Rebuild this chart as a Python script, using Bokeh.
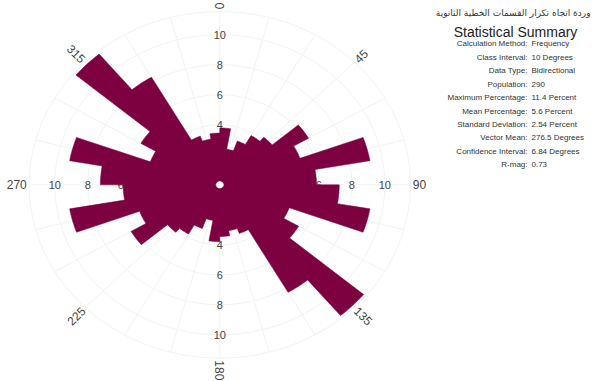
import math

from bokeh.core.properties import value
from bokeh.embed import file_html
from bokeh.models import ColumnDataSource, Label, Range1d
from bokeh.plotting import figure
from bokeh.resources import INLINE

# ---- data -------------------------------------------------------------
# Percentage of lineaments per 10-degree class, 0-180 (bidirectional data,
# so the 180-360 half repeats these values).
BIN_WIDTH = 10
HALF_PCT = [3.79, 2.41, 3.10, 3.79, 4.14, 6.21, 5.17, 9.24, 5.86,
            7.24, 9.24, 4.48, 5.52, 11.38, 8.28, 3.45, 3.10, 3.45]

RADIAL_TICKS = [2, 4, 6, 8, 10]
ANGLE_TICKS = [0, 45, 90, 135, 180, 225, 270, 315]
SPOKE_STEP = 15

TITLE_AR = "وردة اتجاه تكرار القسمات الخطية الثانوية"
SUMMARY_TITLE = "Statistical Summary"
SUMMARY_LABELS = ["Calculation Method:", "Class Interval:", "Data Type:",
                  "Population:", "Maximum Percentage:", "Mean Percentage:",
                  "Standard Deviation:", "Vector Mean:", "Confidence Interval:",
                  "R-mag:"]
SUMMARY_VALUES = ["Frequency", "10 Degrees", "Bidirectional", "290",
                  "11.4 Percent", "5.6 Percent", "2.54 Percent",
                  "276.5 Degrees", "6.84 Degrees", "0.73"]

# ---- layout -----------------------------------------------------------
W, H = 592, 381
CX, CY = 219.3, 184.3          # rose centre, pixels from top-left
SX, SY = 16.5, 15.0            # pixels per percent, horizontal / vertical
R_OUTER = 11.55
R_HOLE = 0.22
BAR_COLOR = "#7D0040"
GRID_COLOR = "#F2F2F2"
FONT = "Liberation Sans"

p = figure(width=W, height=H, output_backend="svg", toolbar_location=None,
           x_range=Range1d(-CX / SX, (W - CX) / SX),
           y_range=Range1d(-(H - CY) / SY, CY / SY),
           min_border=0, outline_line_color=None,
           x_axis_location=None, y_axis_location=None)
p.grid.visible = False
p.background_fill_color = "white"
p.border_fill_color = "white"


def pol(r, deg):
    a = math.radians(deg)
    return r * math.sin(a), r * math.cos(a)


# grid rings and spokes
ring_xs, ring_ys = [], []
for r in RADIAL_TICKS + [R_OUTER]:
    pts = [pol(r, d) for d in range(0, 361, 2)]
    ring_xs.append([q[0] for q in pts])
    ring_ys.append([q[1] for q in pts])
for d in range(0, 360, SPOKE_STEP):
    x1, y1 = pol(R_OUTER, d)
    ring_xs.append([0, x1])
    ring_ys.append([0, y1])
p.multi_line(ring_xs, ring_ys, line_color=GRID_COLOR, line_width=1)

# radial tick labels along the four cardinal spokes
tx, ty, tt = [], [], []
for d in (0, 90, 180, 270):
    for r in RADIAL_TICKS:
        x, y = pol(r, d)
        tx.append(x)
        ty.append(y)
        tt.append(str(r))
p.text(tx, ty, text=tt, text_font=value(FONT), text_font_size="11px",
       text_color="#444444", text_align="center", text_baseline="middle")

# angular labels, oriented along the radius
R_LAB = 11.7
for flipped in (False, True):
    src = dict(x=[], y=[], t=[], a=[])
    for d in ANGLE_TICKS:
        alpha = 90 - d
        while alpha <= -180:
            alpha += 360
        while alpha > 180:
            alpha -= 360
        flip = alpha > 90 or alpha < -90
        if flip != flipped:
            continue
        if flip:
            alpha = alpha - 180 if alpha > 0 else alpha + 180
        x, y = pol(R_LAB, d)
        src["x"].append(x)
        src["y"].append(y)
        src["t"].append(str(d))
        src["a"].append(math.radians(alpha))
    p.text("x", "y", text="t", angle="a", source=ColumnDataSource(src),
           text_font=value(FONT), text_font_size="12px", text_color="#444444",
           text_align="right" if flipped else "left", text_baseline="middle")

# rose petals, traced as one outline so neighbouring classes join seamlessly
full_pct = HALF_PCT + HALF_PCT
ox, oy = [], []
for i, v in enumerate(full_pct):
    a0, a1 = i * BIN_WIDTH, (i + 1) * BIN_WIDTH
    for k in range(9):
        x, y = pol(v, a0 + (a1 - a0) * k / 8)
        ox.append(x)
        oy.append(y)
p.patch(ox, oy, fill_color=BAR_COLOR, line_color=BAR_COLOR, line_width=0.5)

# centre hole
hole = [pol(R_HOLE, d) for d in range(0, 360, 10)]
p.patch([q[0] for q in hole], [q[1] for q in hole], fill_color="white",
        line_color="white", line_width=0.5)

# summary panel
p.add_layout(Label(x=590, y=H - 12.5, x_units="screen", y_units="screen",
                   text=TITLE_AR, text_font="DejaVu Sans", text_font_size="9px",
                   text_color="#333333", text_align="right",
                   text_baseline="middle"))
p.add_layout(Label(x=515, y=H - 31.7, x_units="screen", y_units="screen",
                   text=SUMMARY_TITLE, text_font=FONT, text_font_size="14px",
                   text_color="#222222", text_align="center",
                   text_baseline="middle"))
for i, (lab, val) in enumerate(zip(SUMMARY_LABELS, SUMMARY_VALUES)):
    yy = H - (43.3 + 13.45 * i)
    p.add_layout(Label(x=527, y=yy, x_units="screen", y_units="screen",
                       text=lab, text_font=FONT, text_font_size="8px",
                       text_color="#333333", text_align="right",
                       text_baseline="middle"))
    p.add_layout(Label(x=531, y=yy, x_units="screen", y_units="screen",
                       text=val, text_font=FONT, text_font_size="8px",
                       text_color="#333333", text_align="left",
                       text_baseline="middle"))

open("out.html", "w").write(file_html(p, INLINE))
